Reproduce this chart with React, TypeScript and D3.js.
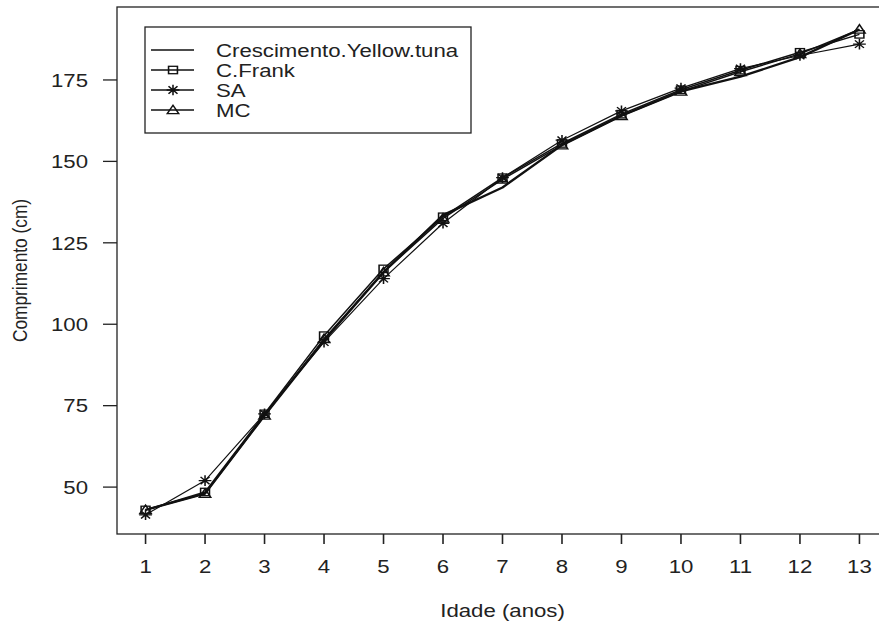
import React from 'react';
import * as d3 from 'd3';

// idade (anos)
const ages = [1, 2, 3, 4, 5, 6, 7, 8, 9, 10, 11, 12, 13];
const crescimento = [43, 48, 72, 95, 116, 133.5, 142, 155, 164, 171.5, 176, 182, 190.5];
const cFrank = [43, 48.5, 72.5, 96.5, 117, 133, 145, 155.5, 164.5, 172, 178, 183.5, 189];
const sa = [41.5, 52, 72.5, 94.5, 114, 131, 145, 156.5, 165.5, 172.5, 178.5, 182.5, 186];
const mc = [43, 48, 72, 95.5, 116, 132.5, 144.5, 155, 164, 171.5, 177.5, 183, 190.5];
const yTicks = [50, 75, 100, 125, 150, 175];
const seriesNames = ['Crescimento.Yellow.tuna', 'C.Frank', 'SA', 'MC'];

const W = 879;
const H = 624;
const FONT = '"Liberation Sans", Arial, sans-serif';
const SX = 1.2; // picture is stretched sideways

const x = d3.scaleLinear().domain([0.52, 13.48]).range([117, 888]);
const y = d3.scaleLinear().domain([35.6, 197.4]).range([534, 7]);

type Shape = 'none' | 'square' | 'star' | 'triangle';

const Marker = ({ cx, cy, shape }: { cx: number; cy: number; shape: Shape }) => {
  const t = `translate(${cx},${cy}) scale(${SX},1)`;
  if (shape === 'square') {
    return <rect transform={t} x={-3.7} y={-3.7} width={7.4} height={7.4} fill="none" stroke="#111" strokeWidth={1.3} />;
  }
  if (shape === 'triangle') {
    return <path transform={t} d="M0,-4.8L4.8,3.7L-4.8,3.7Z" fill="none" stroke="#111" strokeWidth={1.3} />;
  }
  if (shape === 'star') {
    const r = 5.3;
    const d = r * 0.707;
    return (
      <path
        transform={t}
        d={`M${-r},0L${r},0M0,${-r}L0,${r}M${-d},${-d}L${d},${d}M${-d},${d}L${d},${-d}`}
        stroke="#111"
        strokeWidth={1.3}
      />
    );
  }
  return null;
};

const Txt = ({ px, py, anchor, size, children }: any) => (
  <text
    transform={`translate(${px},${py}) scale(${SX},1)`}
    textAnchor={anchor}
    fontFamily={FONT}
    fontSize={size}
    fill="#222"
  >
    {children}
  </text>
);

export default function App() {
  const series = [
    { name: seriesNames[0], vals: crescimento, shape: 'none' as Shape, lw: 2.3 },
    { name: seriesNames[1], vals: cFrank, shape: 'square' as Shape, lw: 1.5 },
    { name: seriesNames[2], vals: sa, shape: 'star' as Shape, lw: 1.2 },
    { name: seriesNames[3], vals: mc, shape: 'triangle' as Shape, lw: 1.5 },
  ];

  const line = d3
    .line<number>()
    .x((_, i) => x(ages[i]))
    .y((v) => y(v));

  const [x0, x1] = x.range();
  const [yb, yt] = y.range();

  return (
    <svg width={W} height={H} style={{ position: 'absolute', left: 0, top: 0, background: '#fff' }}>
      <rect x={0} y={0} width={W} height={H} fill="#fff" />

      {/* plot box */}
      <rect x={x0} y={yt} width={x1 - x0} height={yb - yt} fill="none" stroke="#222" strokeWidth={1.3} />

      {/* x axis */}
      {ages.map((a) => (
        <g key={a}>
          <line x1={x(a)} x2={x(a)} y1={yb} y2={yb + 10} stroke="#222" strokeWidth={1.6} />
          <Txt px={x(a)} py={573} anchor="middle" size={18.5}>
            {a}
          </Txt>
        </g>
      ))}

      {/* y axis */}
      {yTicks.map((t) => (
        <g key={t}>
          <line x1={x0 - 14} x2={x0} y1={y(t)} y2={y(t)} stroke="#222" strokeWidth={1.3} />
          <Txt px={88} py={y(t) + 6.7} anchor="end" size={18.5}>
            {t}
          </Txt>
        </g>
      ))}

      <Txt px={(x0 + x1) / 2} py={617} anchor="middle" size={18.5}>
        Idade (anos)
      </Txt>
      <text
        transform={`translate(27,${(yt + yb) / 2}) scale(${SX},1) rotate(-90)`}
        textAnchor="middle"
        fontFamily={FONT}
        fontSize={17.3}
        fill="#222"
      >
        Comprimento (cm)
      </text>

      {/* series */}
      {series.map((s) => (
        <g key={s.name}>
          <path d={line(s.vals) || ''} fill="none" stroke="#111" strokeWidth={s.lw} strokeLinejoin="round" />
          {s.vals.map((v, i) => (
            <Marker key={i} cx={x(ages[i])} cy={y(v)} shape={s.shape} />
          ))}
        </g>
      ))}

      {/* legend */}
      <rect x={145} y={27} width={326} height={106} fill="#fff" stroke="#222" strokeWidth={1.3} />
      {series.map((s, i) => {
        const ly = 50 + i * 20;
        return (
          <g key={s.name}>
            <line x1={151} x2={194} y1={ly} y2={ly} stroke="#111" strokeWidth={1.4} />
            <Marker cx={173} cy={ly} shape={s.shape} />
            <Txt px={216} py={ly + 6.7} anchor="start" size={18.5}>
              {s.name}
            </Txt>
          </g>
        );
      })}
    </svg>
  );
}
